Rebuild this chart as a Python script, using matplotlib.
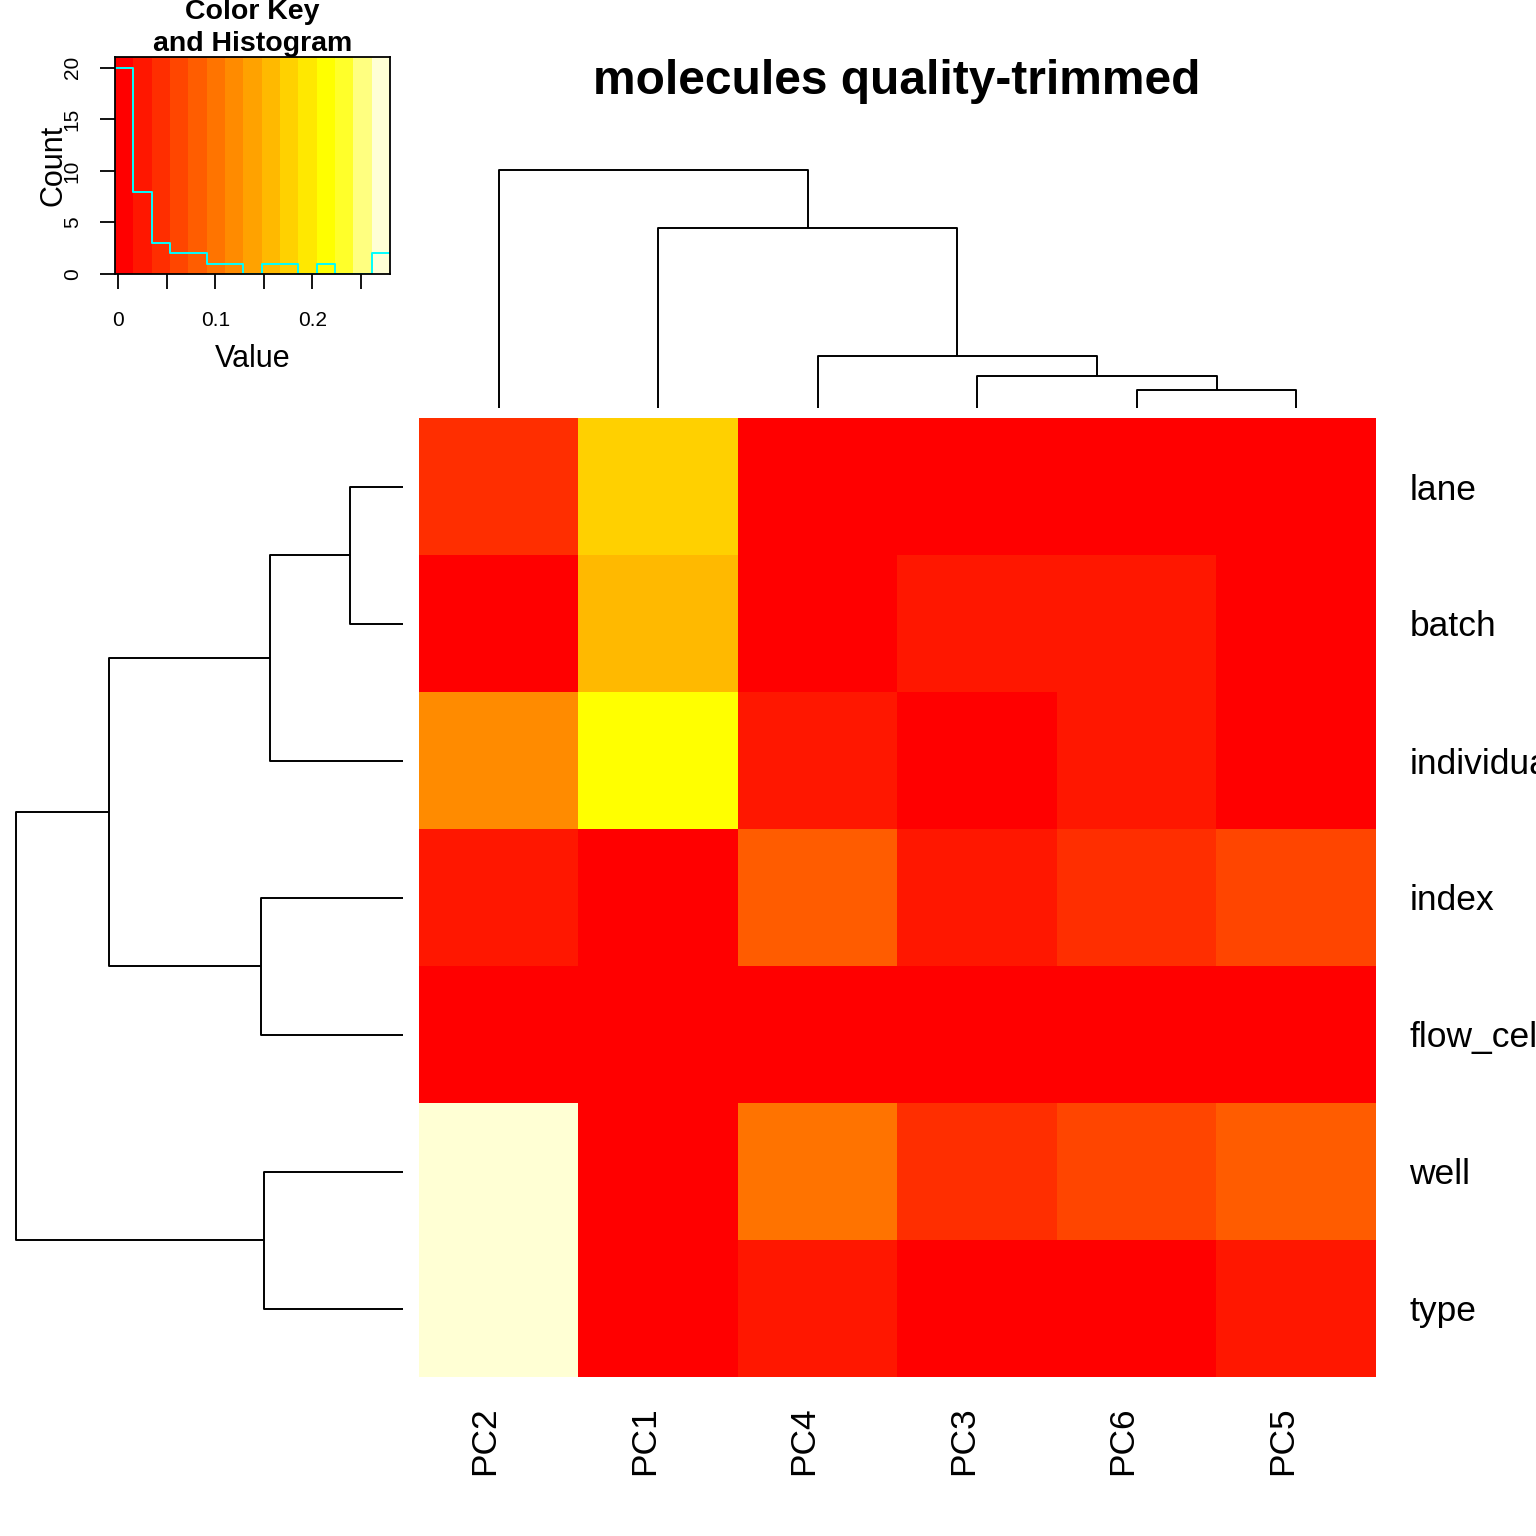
import colorsys
import numpy as np
import matplotlib
matplotlib.use("Agg")
import matplotlib.pyplot as plt
from matplotlib.colors import ListedColormap, BoundaryNorm
from matplotlib.transforms import ScaledTranslation

plt.rcParams['font.family'] = ['Liberation Sans', 'DejaVu Sans']

# data
row_labels = ['lane', 'batch', 'individual', 'index', 'flow_cell', 'well', 'type']
col_labels = ['PC2', 'PC1', 'PC4', 'PC3', 'PC6', 'PC5']

lane = [0.045, 0.176, 0.004, 0.002, 0.001, 0.003]
batch = [0.006, 0.158, 0.009, 0.022, 0.027, 0.005]
individual = [0.120, 0.214, 0.024, 0.011, 0.019, 0.007]
index = [0.028, 0.003, 0.085, 0.021, 0.041, 0.063]
flow_cell = [-0.0034, 0.000, 0.001, 0.002, 0.001, 0.000]
well = [0.280, 0.008, 0.100, 0.050, 0.068, 0.078]
type_ = [0.272, 0.012, 0.030, 0.004, 0.002, 0.018]

# dendrograms: (left child, right child, height); leaves are 0..n-1 in display order
row_merges = [(0, 1, 0.53), (7, 2, 1.33), (3, 4, 1.42), (5, 6, 1.39),
              (8, 9, 2.95), (11, 10, 3.88)]
col_merges = [(4, 5, 0.186), (3, 6, 0.323), (2, 7, 0.526), (1, 8, 1.816),
              (0, 9, 2.403)]

mat = np.array([lane, batch, individual, index, flow_cell, well, type_])


# R's heat.colors(15)
def heat_colors(n):
    j = n // 4
    i = n - j
    cols = []
    for h in np.linspace(0, 1 / 6, i):
        cols.append(colorsys.hsv_to_rgb(h, 1, 1))
    for s in np.linspace(1 - 1 / (2 * j), 1 / (2 * j), j):
        cols.append(colorsys.hsv_to_rgb(1 / 6, s, 1))
    return cols


ncol = 15
cmap = ListedColormap(heat_colors(ncol))
breaks = np.linspace(mat.min(), mat.max(), ncol + 1)
norm = BoundaryNorm(breaks, ncol)

W = H = 1536
fig = plt.figure(figsize=(15.36, 15.36), dpi=100)


def px_axes(x0, y0, x1, y1):
    return fig.add_axes([x0 / W, 1 - y1 / H, (x1 - x0) / W, (y1 - y0) / H])


def dendro_segments(merges, n):
    pos = {k: float(k) for k in range(n)}
    hgt = {k: 0.0 for k in range(n)}
    segs = []
    for m, (a, b, h) in enumerate(merges):
        node = n + m
        segs.append(([pos[a], pos[a], pos[b], pos[b]], [hgt[a], h, h, hgt[b]]))
        pos[node] = (pos[a] + pos[b]) / 2
        hgt[node] = h
    return segs


# heatmap
ax = px_axes(419, 418, 1376, 1377)
ax.imshow(mat, cmap=cmap, norm=norm, aspect='auto', interpolation='nearest')
ax.set_xlim(-0.5, len(col_labels) - 0.5)
ax.set_ylim(len(row_labels) - 0.5, -0.5)
for s in ax.spines.values():
    s.set_visible(False)
ax.yaxis.tick_right()
ax.set_yticks(range(len(row_labels)))
ax.set_yticklabels(row_labels, fontsize=25.5)
ax.set_xticks(range(len(col_labels)))
ax.set_xticklabels(col_labels, fontsize=25.5, rotation=90, va='top')
ax.tick_params(axis='y', length=0, pad=24)
ax.tick_params(axis='x', length=0, pad=21)
shift = ScaledTranslation(-14 / 100, 0, fig.dpi_scale_trans)
for lab in ax.get_xticklabels():
    lab.set_transform(lab.get_transform() + shift)

# row dendrogram
axr = px_axes(0, 418, 419, 1377)
rmax = max(m[2] for m in row_merges)
for xs, ys in dendro_segments(row_merges, len(row_labels)):
    axr.plot(ys, xs, color='black', lw=1.4, solid_capstyle='butt')
axr.set_xlim(rmax * 1.04, -rmax * 0.04)
axr.set_ylim(len(row_labels) - 0.5, -0.5)
axr.axis('off')

# column dendrogram
axc = px_axes(419, 160, 1376, 418)
cmax = max(m[2] for m in col_merges)
for xs, ys in dendro_segments(col_merges, len(col_labels)):
    axc.plot(xs, ys, color='black', lw=1.4, solid_capstyle='butt')
axc.set_xlim(-0.5, len(col_labels) - 0.5)
axc.set_ylim(-cmax * 0.04, cmax * 1.04)
axc.axis('off')

fig.text(897 / W, 1 - 81 / H, 'molecules quality-trimmed', fontsize=34.5,
         fontweight='bold', ha='center', va='center')

# color key with histogram
axk = px_axes(115, 57, 390, 274)
axk.pcolormesh(breaks, [0, 1], ((breaks[:-1] + breaks[1:]) / 2)[None, :],
               cmap=cmap, norm=norm)
counts, _ = np.histogram(mat.ravel(), bins=breaks)
hy = np.append(counts, counts[-1]) / counts.max() * 0.95
axk.step(breaks, hy, where='post', color='cyan', lw=1.4)
axk.set_xlim(breaks[0], breaks[-1])
axk.set_ylim(0, 1)
axk.set_xticks([0, 0.05, 0.1, 0.15, 0.2, 0.25])
axk.set_xticklabels(['0', '', '0.1', '', '0.2', ''], fontsize=15)
yt = [0, 5, 10, 15, 20]
axk.set_yticks([c / counts.max() * 0.95 for c in yt])
axk.set_yticklabels([str(c) for c in yt], fontsize=15, rotation=90, va='center')
axk.tick_params(axis='x', length=11, width=1.3, pad=16)
axk.tick_params(axis='y', length=11, width=1.3, pad=13)
for s in axk.spines.values():
    s.set_linewidth(1.3)
axk.set_xlabel('Value', fontsize=22, labelpad=10)
axk.set_ylabel('Count', fontsize=22, labelpad=-4)
axk.set_title('Color Key\nand Histogram', fontsize=20.5, fontweight='bold',
              pad=-11, linespacing=1.32)

fig.savefig('out.png', dpi=100)
